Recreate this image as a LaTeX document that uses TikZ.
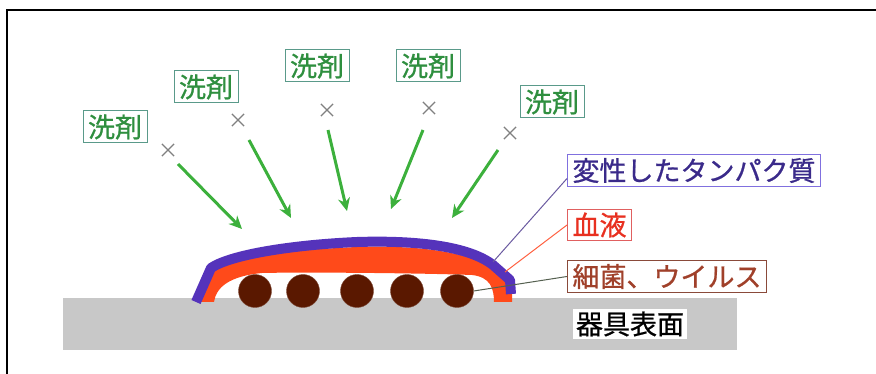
\documentclass[tikz,border=0pt]{standalone}
\usepackage{fontspec}
\newfontfamily\jp[FakeBold=0.8,AutoFakeBold=0.8]{Noto Sans CJK JP}
\usetikzlibrary{arrows.meta,shapes.misc}
\definecolor{gtext}{HTML}{2F8F3F}
\definecolor{gbox}{HTML}{5A9A8A}
\definecolor{garr}{HTML}{3CB03C}
\definecolor{ptext}{HTML}{3A2A8A}
\definecolor{pbox}{HTML}{8070DF}
\definecolor{player}{HTML}{5533BB}
\definecolor{pline}{HTML}{6A5AA0}
\definecolor{rtext}{HTML}{E83020}
\definecolor{rbox}{HTML}{E06060}
\definecolor{rlayer}{HTML}{FF4A1A}
\definecolor{rline}{HTML}{FF6040}
\definecolor{btext}{HTML}{A0402A}
\definecolor{bbox}{HTML}{8A4A3A}
\definecolor{bline}{HTML}{556050}
\definecolor{bact}{HTML}{5A1800}
\definecolor{surf}{HTML}{C8C8C8}
\begin{document}
\begin{tikzpicture}[x=1pt,y=-1pt,
  lbl/.style={draw, line width=1pt, inner xsep=5pt, inner ysep=3.5pt, fill=white,
    font=\jp\fontsize{27}{27}\selectfont},
  detlbl/.style={lbl, draw=gbox, text=gtext},
  xmark/.style={cross out, draw=gray, line width=1.2pt, minimum size=11pt, inner sep=0pt},
  garrow/.style={draw=garr, line width=3pt, -{Stealth[length=13pt,width=12pt]}},
  germ/.style={circle, fill=bact, draw=bact!80!white, minimum size=33pt, inner sep=0pt},
  leader/.style={line width=1pt}]
\useasboundingbox (0,0) rectangle (876,374);
% frame
\draw[line width=2pt] (7,374) -- (7,10.5) -- (876,10.5);
% surface
\fill[surf] (63,298) rectangle (737,350);
\node[fill=white, inner sep=3pt, font=\jp\fontsize{27}{27}\selectfont] (surface) at (630,324) {器具表面};
% detergent labels
\node[detlbl] (d1) at (115,127) {洗剤};
\node[detlbl] (d2) at (206,87) {洗剤};
\node[detlbl] (d3) at (317,66) {洗剤};
\node[detlbl] (d4) at (428,66) {洗剤};
\node[detlbl] (d5) at (552,102) {洗剤};
% crosses
\node[xmark] (x1) at (168,150) {};
\node[xmark] (x2) at (238,120) {};
\node[xmark] (x3) at (327,110) {};
\node[xmark] (x4) at (429,108) {};
\node[xmark] (x5) at (510,133) {};
% arrows
\coordinate (a1s) at (178,164); \coordinate (a1e) at (242,229);
\coordinate (a2s) at (249,140); \coordinate (a2e) at (291,218);
\coordinate (a3s) at (328,130); \coordinate (a3e) at (347,211);
\coordinate (a4s) at (423,130); \coordinate (a4e) at (391,209);
\coordinate (a5s) at (498,150); \coordinate (a5e) at (452,218);
\draw[garrow] (a1s) -- (a1e);
\draw[garrow] (a2s) -- (a2e);
\draw[garrow] (a3s) -- (a3e);
\draw[garrow] (a4s) -- (a4e);
\draw[garrow] (a5s) -- (a5e);
% blood layer
\fill[rlayer] (198,302) -- (211,270) .. controls (230,256) and (290,250) .. (357,247)
  .. controls (420,245) and (470,252) .. (495,270) -- (512,284) -- (512,302) -- (494,302)
  .. controls (494,288) and (490,277) .. (472,275) .. controls (420,273) and (300,272) .. (262,273)
  .. controls (230,276) and (216,287) .. (214,302) -- cycle;
% protein layer
\draw[player, line width=10pt, line join=round] (196,302) -- (211,268)
  .. controls (230,255) and (290,245) .. (357,242)
  .. controls (420,240) and (470,247) .. (493,265) -- (510,280) -- (511,294);
% bacteria
\node[germ] (b1) at (255,291) {};
\node[germ] (b2) at (303,291) {};
\node[germ] (b3) at (357,291) {};
\node[germ] (b4) at (407,291) {};
\node[germ] (b5) at (457,291) {};
% right labels
\node[lbl, draw=pbox, text=ptext, anchor=west] (prot) at (567,170.5) {変性したタンパク質};
\node[lbl, draw=rbox, text=rtext, anchor=west] (blood) at (567,225) {血液};
\node[lbl, draw=bbox, text=btext, anchor=west] (germs) at (567,276.5) {細菌、ウイルス};
% leaders
\coordinate (pt) at (493,262);
\coordinate (rt) at (505,272);
\draw[leader, pline] ([yshift=-8pt]prot.west) -- (pt);
\draw[leader, rline] (blood.west) -- (rt);
\draw[leader, bline] (germs.west) -- (b5.east);
\end{tikzpicture}
\end{document}
